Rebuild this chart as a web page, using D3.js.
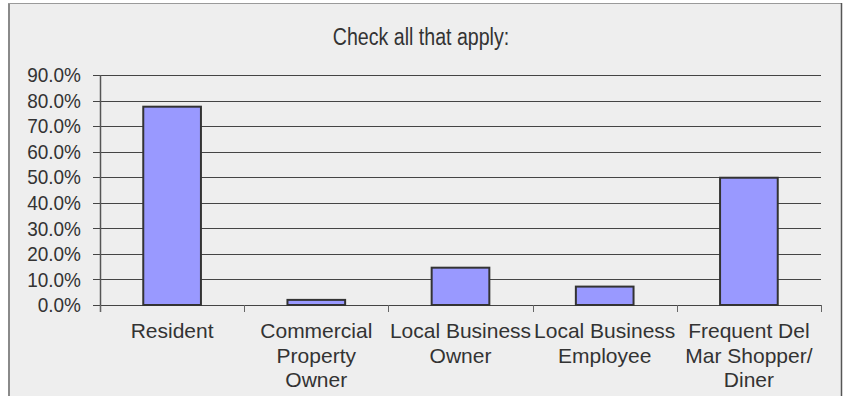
<!DOCTYPE html>
<html>
<head>
<meta charset="utf-8">
<script src="https://cdn.jsdelivr.net/npm/d3@7"></script>
<style>
  html, body { margin: 0; padding: 0; background: #ffffff; }
  svg { display: block; }
  text { font-family: "Liberation Sans", Arial, sans-serif; fill: #333333; }
</style>
</head>
<body>
<svg id="chart" width="846" height="396"></svg>
<script>
// Survey responses ("check all that apply"), share of respondents
const categories = [
  ["Resident"],
  ["Commercial", "Property", "Owner"],
  ["Local Business", "Owner"],
  ["Local Business", "Employee"],
  ["Frequent Del", "Mar Shopper/", "Diner"]
];
const shares = [0.776, 0.020, 0.146, 0.072, 0.498];
const yTicks = [0, 0.1, 0.2, 0.3, 0.4, 0.5, 0.6, 0.7, 0.8, 0.9];
const titleText = "Check all that apply:";

const svg = d3.select("#chart");

// chart frame
svg.append("rect")
  .attr("x", 9).attr("y", 3.5).attr("width", 832).attr("height", 400)
  .attr("fill", "#eeeeee").attr("stroke", "none");
svg.append("line").attr("x1", 9).attr("x2", 9).attr("y1", 3).attr("y2", 396)
  .attr("stroke", "#8a8a8a").attr("stroke-width", 2);
svg.append("line").attr("x1", 8).attr("x2", 842).attr("y1", 3.5).attr("y2", 3.5)
  .attr("stroke", "#9a9a9a").attr("stroke-width", 1);
svg.append("line").attr("x1", 841.5).attr("x2", 841.5).attr("y1", 3).attr("y2", 396)
  .attr("stroke", "#555555").attr("stroke-width", 1.5);

const plot = { left: 100, right: 821, top: 75, bottom: 305 };

const x = d3.scaleBand()
  .domain(d3.range(categories.length))
  .range([plot.left, plot.right])
  .paddingInner(0).paddingOuter(0);

const y = d3.scaleLinear()
  .domain([0, 0.9])
  .range([plot.bottom, plot.top]);

// title (slightly condensed face)
svg.append("text")
  .attr("transform", "translate(421,45) scale(0.8,1)")
  .attr("text-anchor", "middle")
  .attr("font-size", 24.5)
  .text(titleText);

// horizontal gridlines
svg.append("g")
  .selectAll("line")
  .data(yTicks)
  .join("line")
  .attr("x1", plot.left - 7).attr("x2", plot.right)
  .attr("y1", d => Math.round(y(d)) + 0.5).attr("y2", d => Math.round(y(d)) + 0.5)
  .attr("stroke", "#444444").attr("stroke-width", 1);

// y axis labels
const fmt = d3.format(".1%");
svg.append("g")
  .selectAll("text")
  .data(yTicks)
  .join("text")
  .attr("transform", d => `translate(81,${y(d)}) scale(0.95,1)`)
  .attr("text-anchor", "end")
  .attr("dominant-baseline", "central")
  .attr("font-size", 20)
  .text(d => fmt(d));

// y axis line
svg.append("line")
  .attr("x1", plot.left + 0.5).attr("x2", plot.left + 0.5)
  .attr("y1", plot.top).attr("y2", plot.bottom + 7)
  .attr("stroke", "#555555").attr("stroke-width", 1.5);

// x axis category ticks
const tickXs = d3.range(categories.length + 1).map(i => plot.left + i * x.step());
svg.append("g")
  .selectAll("line")
  .data(tickXs)
  .join("line")
  .attr("x1", d => Math.round(d) + 0.5).attr("x2", d => Math.round(d) + 0.5)
  .attr("y1", plot.bottom).attr("y2", plot.bottom + 7)
  .attr("stroke", "#666666").attr("stroke-width", 1);

// bars
const barW = x.bandwidth() * 0.4;
svg.append("g")
  .selectAll("rect")
  .data(shares)
  .join("rect")
  .attr("x", (d, i) => x(i) + x.bandwidth() / 2 - barW / 2)
  .attr("y", d => y(d))
  .attr("width", barW)
  .attr("height", d => plot.bottom - y(d))
  .attr("fill", "#9999ff")
  .attr("stroke", "#333333")
  .attr("stroke-width", 2);

// category labels
const labels = svg.append("g")
  .selectAll("text")
  .data(categories)
  .join("text")
  .attr("text-anchor", "middle")
  .attr("font-size", 21)
  .attr("x", (d, i) => x(i) + x.bandwidth() / 2)
  .attr("y", 338);
labels.selectAll("tspan")
  .data((d, i) => d.map(line => ({ line, i })))
  .join("tspan")
  .attr("x", d => x(d.i) + x.bandwidth() / 2)
  .attr("dy", (d, j) => j === 0 ? 0 : 24.5)
  .text(d => d.line);
</script>
</body>
</html>
